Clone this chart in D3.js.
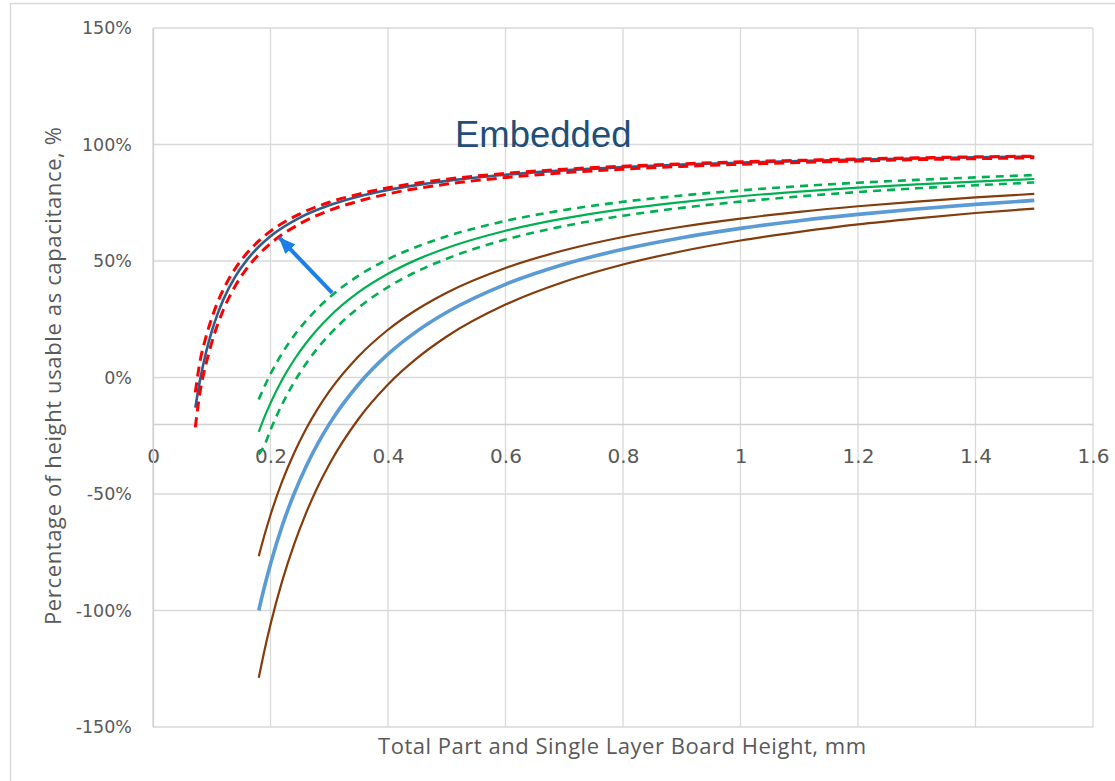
<!DOCTYPE html>
<html>
<head>
<meta charset="utf-8">
<script src="https://cdn.jsdelivr.net/npm/d3@7"></script>
<style>
  body { margin: 0; background: #fff; }
  svg { display: block; }
</style>
</head>
<body>
<div id="chart"></div>
<script>
'use strict';

// x values, mm
var embX = [0.072, 0.08, 0.09, 0.10, 0.11, 0.12, 0.14, 0.16, 0.18, 0.20, 0.25, 0.30, 0.35, 0.40, 0.50, 0.60, 0.70, 0.80, 0.90, 1.00, 1.10, 1.20, 1.30, 1.40, 1.50];
var otherX = [0.18, 0.19, 0.20, 0.22, 0.24, 0.26, 0.28, 0.30, 0.35, 0.40, 0.45, 0.50, 0.60, 0.70, 0.80, 0.90, 1.00, 1.10, 1.20, 1.30, 1.40, 1.50];

// percentages
var embedded = [-13.0, -1.2, 10.5, 19.8, 27.3, 33.6, 43.3, 50.5, 56.1, 60.6, 68.6, 73.9, 77.7, 80.5, 84.4, 87.0, 88.9, 90.3, 91.4, 92.2, 92.9, 93.5, 94.0, 94.5, 94.8];
var embeddedHigh = [-6.4, 6.9, 17.2, 25.5, 32.3, 37.9, 46.8, 53.4, 58.6, 62.8, 70.2, 75.2, 78.7, 81.4, 85.1, 87.6, 89.4, 90.7, 91.7, 92.6, 93.2, 93.8, 94.3, 94.7, 95.0];
var embeddedLow = [-21.4, -6.3, 5.6, 15.0, 22.7, 29.2, 39.3, 46.9, 52.8, 57.5, 66.0, 71.7, 75.7, 78.8, 83.0, 85.8, 87.9, 89.4, 90.6, 91.5, 92.3, 92.9, 93.5, 93.9, 94.3];

var green = [-23.3, -16.8, -11.0, -0.9, 7.5, 14.6, 20.7, 26.0, 36.6, 44.5, 50.7, 55.6, 63.0, 68.3, 72.3, 75.3, 77.8, 79.8, 81.5, 82.9, 84.1, 85.2];
var greenHigh = [-9.4, -3.7, 1.5, 10.5, 17.9, 24.2, 29.6, 34.3, 43.7, 50.8, 56.2, 60.6, 67.2, 71.9, 75.4, 78.1, 80.3, 82.1, 83.6, 84.8, 85.9, 86.9];
var greenLow = [-33.0, -28.9, -22.5, -11.4, -2.1, 5.8, 12.5, 18.3, 30.0, 38.8, 45.6, 51.0, 59.2, 65.0, 69.4, 72.8, 75.5, 77.7, 79.6, 81.2, 82.5, 83.7];

var single = [-100, -89.5, -80, -63.6, -50, -38.5, -28.6, -20, -2.9, 10, 20, 28, 40, 48.6, 55, 60, 64, 67.3, 70, 72.3, 74.3, 76];
var singleHigh = [-76.7, -67.4, -59, -44.5, -32.5, -22.3, -13.6, -6, 9.1, 20.5, 29.3, 36.4, 47, 54.6, 60.3, 64.7, 68.2, 71.1, 73.5, 75.5, 77.3, 78.8];
var singleLow = [-128.9, -116.8, -106, -87.3, -71.7, -58.5, -47.1, -37.3, -17.7, -3, 8.4, 17.6, 31.3, 41.1, 48.5, 54.2, 58.8, 62.5, 65.7, 68.3, 70.6, 72.5];

var xTicks = [0, 0.2, 0.4, 0.6, 0.8, 1, 1.2, 1.4, 1.6];
var yTicks = [-150, -100, -50, 0, 50, 100, 150];

var W = 1115, H = 781;
var margin = { left: 153, right: 22, top: 28, bottom: 54 };

var svg = d3.select('#chart').append('svg').attr('width', W).attr('height', H);

// chart area border
svg.append('rect')
  .attr('x', 10.5).attr('y', 3.5)
  .attr('width', W + 20).attr('height', H + 20)
  .attr('fill', 'none').attr('stroke', '#d9d9d9').attr('stroke-width', 1.5);

var x = d3.scaleLinear().domain([0, 1.6]).range([margin.left, W - margin.right]);
var y = d3.scaleLinear().domain([-150, 150]).range([H - margin.bottom, margin.top]);

var grid = svg.append('g');

// vertical gridlines
grid.selectAll('line.v').data(xTicks).enter().append('line')
  .attr('x1', function (d) { return x(d); }).attr('x2', function (d) { return x(d); })
  .attr('y1', y(150)).attr('y2', y(-150))
  .attr('stroke', '#d9d9d9').attr('stroke-width', 1.3);

// horizontal gridlines
grid.selectAll('line.h').data(yTicks).enter().append('line')
  .attr('x1', x(0)).attr('x2', x(1.6))
  .attr('y1', function (d) { return y(d); }).attr('y2', function (d) { return y(d); })
  .attr('stroke', '#d9d9d9').attr('stroke-width', 1.3);

// horizontal axis crosses at -20%
var xAxis = d3.axisBottom(x).tickValues(xTicks).tickSize(0).tickPadding(25)
  .tickFormat(function (d) { return d3.format('~g')(d); });
var gx = svg.append('g').attr('transform', 'translate(0,' + y(-20) + ')').call(xAxis);
gx.select('.domain').attr('stroke', '#d0d0d0').attr('stroke-width', 1.5);
gx.selectAll('text').attr('fill', '#595959').attr('font-size', 20)
  .attr('font-family', 'DejaVu Sans, sans-serif');

var yAxis = d3.axisLeft(y).tickValues(yTicks).tickSize(0).tickPadding(21)
  .tickFormat(function (d) { return d + '%'; });
var gy = svg.append('g').attr('transform', 'translate(' + x(0) + ',0)').call(yAxis);
gy.select('.domain').attr('stroke', '#d0d0d0').attr('stroke-width', 1.3);
gy.selectAll('text').attr('fill', '#595959').attr('font-size', 17.5)
  .attr('font-family', 'DejaVu Sans, sans-serif');

// axis titles
svg.append('text')
  .attr('x', 622).attr('y', 754)
  .attr('text-anchor', 'middle')
  .attr('fill', '#595959').attr('font-size', 22)
  .attr('font-family', 'Open Sans, sans-serif')
  .attr('textLength', 488).attr('lengthAdjust', 'spacing')
  .text('Total Part and Single Layer Board Height, mm');

svg.append('text')
  .attr('transform', 'translate(61,376) rotate(-90)')
  .attr('text-anchor', 'middle')
  .attr('fill', '#595959').attr('font-size', 22)
  .attr('font-family', 'Open Sans, sans-serif')
  .attr('textLength', 498).attr('lengthAdjust', 'spacing')
  .text('Percentage of height usable as capacitance, %');

// series
var series = [
  { xs: otherX, ys: singleHigh, color: '#843c0c', width: 2.2 },
  { xs: otherX, ys: singleLow, color: '#843c0c', width: 2.2 },
  { xs: otherX, ys: single, color: '#5b9bd5', width: 3.6 },
  { xs: otherX, ys: green, color: '#00b050', width: 2.2 },
  { xs: otherX, ys: greenHigh, color: '#00b050', width: 2.6, dash: '8,6' },
  { xs: otherX, ys: greenLow, color: '#00b050', width: 2.6, dash: '8,6' },
  { xs: embX, ys: embedded, color: '#2f5d8c', width: 2.6 },
  { xs: embX, ys: embeddedHigh, color: '#ff0000', width: 3, dash: '10,6' },
  { xs: embX, ys: embeddedLow, color: '#ff0000', width: 3, dash: '10,6' }
];

var line = d3.line()
  .x(function (d) { return x(d[0]); })
  .y(function (d) { return y(d[1]); })
  .curve(d3.curveMonotoneX);

series.forEach(function (s) {
  var pts = s.xs.map(function (v, i) { return [v, s.ys[i]]; });
  svg.append('path')
    .attr('d', line(pts))
    .attr('fill', 'none')
    .attr('stroke', s.color)
    .attr('stroke-width', s.width)
    .attr('stroke-dasharray', s.dash || null);
});

// annotation
svg.append('text')
  .attr('x', x(0.514)).attr('y', y(98.8))
  .attr('fill', '#1f4e79').attr('font-size', 36.5)
  .attr('font-family', 'Liberation Sans, Arial, sans-serif')
  .text('Embedded');

var defs = svg.append('defs');
defs.append('marker')
  .attr('id', 'arrow')
  .attr('markerUnits', 'userSpaceOnUse')
  .attr('markerWidth', 18).attr('markerHeight', 18)
  .attr('viewBox', '0 0 18 18')
  .attr('refX', 16).attr('refY', 9)
  .attr('orient', 'auto')
  .append('path')
  .attr('d', 'M0,2 L17,9 L0,16 Z')
  .attr('fill', '#1a7fe8');

svg.append('line')
  .attr('x1', x(0.305)).attr('y1', y(36.3))
  .attr('x2', x(0.215)).attr('y2', y(60))
  .attr('stroke', '#1a7fe8').attr('stroke-width', 4)
  .attr('marker-end', 'url(#arrow)');
</script>
</body>
</html>
